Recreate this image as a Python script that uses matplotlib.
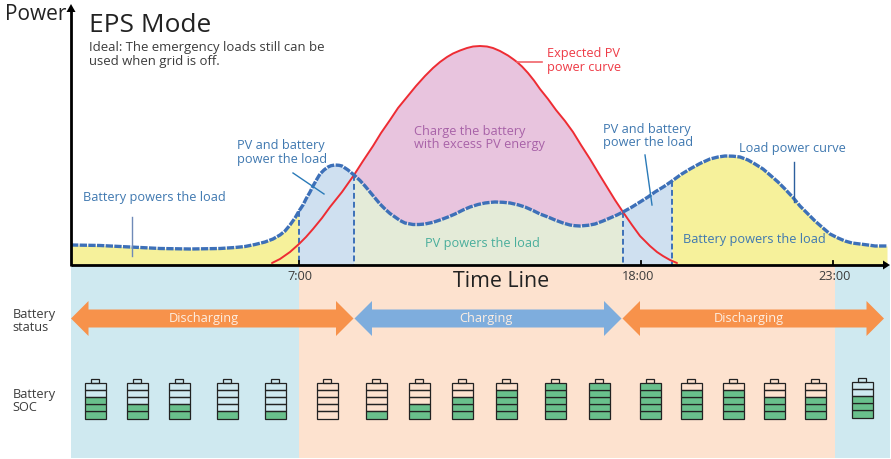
import numpy as np
import matplotlib
matplotlib.use('Agg')
import matplotlib.pyplot as plt
from matplotlib.patches import Polygon, Rectangle

plt.rcParams['font.family'] = ['Open Sans', 'DejaVu Sans']

# curves, in image pixels (y grows downwards)
load_x = [71, 100, 130, 160, 190, 220, 235, 245, 255, 265, 273, 280, 285, 290, 295, 299, 303, 306, 310, 313, 317, 320,
          324, 328, 331, 335, 339, 342, 345, 348, 351, 354,
          360, 365, 370, 375, 380, 385, 390, 395, 400, 405, 413, 419, 425, 433, 440, 448, 455, 463, 470, 478, 485, 490,
          495, 503, 510, 518, 525, 533, 540, 548, 555, 563, 570, 575, 580, 588,
          595, 603, 610, 617, 623, 632, 640, 648, 655, 664, 672, 681, 690, 700, 710, 718, 725, 733, 740, 748, 755, 763,
          770, 778, 785, 793, 800, 808, 815, 823, 830, 838, 845, 852, 860, 868, 875, 887]
load_y = [246, 246.5, 248, 249.5, 250, 249.5, 248.5, 247.5, 245.5, 243, 240, 236, 232, 226, 219, 212, 206, 200, 193, 187,
          180, 175, 171, 168, 166.7, 166, 166.3, 167, 169, 171, 173.5, 176,
          181.5, 187, 193, 199, 205, 210, 214.5, 218, 221.5, 224, 225.5, 225.5, 225, 223.3, 221, 218, 215, 211, 208, 205.5,
          204, 203.4, 203, 203.3, 204, 205.8, 208, 211.5, 215, 218, 221, 224, 226, 226.7, 227, 226.3,
          225, 222, 219, 216, 213, 208, 203, 198, 193, 187.5, 182, 175.5, 170, 164.5, 160, 158, 157, 157.2, 158, 161, 165, 170,
          176, 183, 190, 198.5, 207, 215, 222, 229, 235, 239, 242, 244, 245, 246, 247, 247]

pv_x = [272, 280, 290, 299, 306, 313, 322, 330, 342, 354, 363, 373, 381, 390, 398, 407, 416, 425, 433, 440, 447, 453,
        460, 467, 473, 480, 487, 493, 500, 508, 513, 517, 522, 528, 534, 540, 548, 556, 565, 573,
        581, 590, 599, 607, 615, 623, 632, 640, 650, 657, 663, 670, 677]
pv_y = [264, 260, 253, 245, 238, 230, 219, 208, 193, 176, 162, 147, 134, 121, 109, 98, 87, 77, 69, 63, 58, 54.5,
        51.5, 49, 47.5, 47, 47.5, 49, 52, 56.5, 60, 63, 67.5, 74, 81.5, 90, 100, 111, 122, 133,
        146, 160, 175, 188, 201, 213, 226, 237, 247, 253, 257, 261, 264]

# time axis breakpoints (pixels)
t_sunrise, t_excess_start, t_excess_end, t_sun_gone, t_late = 299, 354, 623, 672, 835
base_y = 266
right_x = 887

# battery state per icon
battery_x = [95, 137, 179, 227, 275, 327, 376, 419, 462, 506, 555, 599, 650, 691, 733, 774, 815, 862]
battery_level = [3, 2, 2, 1, 1, 0, 1, 2, 3, 4, 5, 5, 5, 4, 4, 3, 3, 3]
battery_top = [383.5] * 17 + [382.5]

status_labels = ['Discharging', 'Charging', 'Discharging']
status_text_x = [204, 486, 749]
status_from = [71, 354.5, 622.5]
status_to = [353.5, 621.5, 884]
status_colors = ['#f7924b', '#7eaddd', '#f7924b']

BLUE_TXT = '#3f78b0'
CURVE = '#3d70b8'
GREY = '#3c3c3c'
FS = 9.2

fig = plt.figure(figsize=(8.91, 4.6), dpi=100)
ax = fig.add_axes([0, 0, 1, 1])
ax.set_xlim(0, 891)
ax.set_ylim(460, 0)
ax.axis('off')

load_x = np.array(load_x, dtype=float)
load_y = np.array(load_y, dtype=float)
pv_x = np.array(pv_x, dtype=float)
pv_y = np.array(pv_y, dtype=float)


def seg(xs, ys, a, b):
    m = (xs >= a) & (xs <= b)
    return xs[m], ys[m]


# background bands
ax.axvspan(71, t_sunrise, ymin=0.002, ymax=1 - base_y / 460, color='#cfe9f0', lw=0)
ax.axvspan(t_sunrise, t_late, ymin=0.002, ymax=1 - base_y / 460, color='#fde2cf', lw=0)
ax.axvspan(t_late, 890, ymin=0.002, ymax=1 - base_y / 460, color='#cfe9f0', lw=0)

# filled regions under the load curve
for a, b, col in [(71, t_sunrise, '#f6f19b'), (t_sunrise, t_excess_start, '#cfe0f0'),
                  (t_excess_start, t_excess_end, '#e4ebd8'), (t_excess_end, t_sun_gone, '#cfe0f0'),
                  (t_sun_gone, right_x, '#f6f19b')]:
    sx, sy = seg(load_x, load_y, a, b)
    ax.fill_between(sx, sy, base_y, color=col, lw=0)

# excess PV between the two curves
px, py = seg(pv_x, pv_y, t_excess_start, t_excess_end)
lx, ly = seg(load_x, load_y, t_excess_start, t_excess_end)
ax.fill(np.r_[px, lx[::-1]], np.r_[py, ly[::-1]], color='#e8c4de', lw=0)

# dashed dividers
for xv in [t_sunrise, t_excess_start, t_excess_end, t_sun_gone]:
    top = np.interp(xv, load_x, load_y)
    ax.plot([xv, xv], [top, base_y], color=CURVE, lw=1.4, dashes=(3, 1.6))

ax.plot(pv_x, pv_y, color='#ee2c33', lw=1.4, solid_capstyle='round')
ax.plot(load_x, load_y, color=CURVE, lw=2.4, dashes=(2.2, 0.4))

# leader lines
ax.plot([132, 132], [218, 257], color='#6f8ab8', lw=1)
ax.plot([293, 324], [174, 195], color='#2a7ab8', lw=1)
ax.plot([645, 652], [156, 206], color='#2a7ab8', lw=1)
ax.plot([794, 794], [163, 203], color='#2c5f9e', lw=1)
ax.plot([517, 542], [63, 63], color='#f0636a', lw=1.2)

# axes
ax.plot([71, 71], [base_y + 1, 12], color='black', lw=2, solid_capstyle='butt')
ax.plot([71, 884], [base_y, base_y], color='black', lw=2, solid_capstyle='butt')
ax.add_patch(Polygon([(71, 5), (75.5, 13), (66.5, 13)], color='black', lw=0))
ax.add_patch(Polygon([(890, base_y), (883, base_y - 4.5), (883, base_y + 4.5)], color='black', lw=0))
for xt in [299, 641, 833]:
    ax.plot([xt, xt], [base_y - 4, base_y], color='black', lw=1.3)

# status arrows
for lab, tx, a, b, col in zip(status_labels, status_text_x, status_from, status_to, status_colors):
    yc = 319.5
    pts = [(a, yc), (a + 17.5, yc - 17.5), (a + 17.5, yc - 9), (b - 17.5, yc - 9),
           (b - 17.5, yc - 17.5), (b, yc), (b - 17.5, yc + 17.5), (b - 17.5, yc + 9),
           (a + 17.5, yc + 9), (a + 17.5, yc + 17.5)]
    ax.add_patch(Polygon(pts, facecolor=col, edgecolor='none', zorder=3))
    ax.text(tx, yc - 0.5, lab, color='#fdeee2', fontsize=FS, ha='center', va='center', zorder=4)

# battery icons
cell_w, cell_h = 21, 7.2
for xb, lev, top in zip(battery_x, battery_level, battery_top):
    ax.add_patch(Rectangle((xb - 4.2, top - 4), 8.4, 4, fc='none', ec='#222222', lw=0.9))
    for i in range(5):
        y0 = top + (4 - i) * cell_h
        fc = '#69c08c' if i < lev else 'none'
        ax.add_patch(Rectangle((xb - cell_w / 2, y0), cell_w, cell_h, fc=fc, ec='#222222', lw=0.9))

# text
ax.text(5, 15, 'Power', fontsize=15, color='#222222', va='center')
ax.text(89, 26, 'EPS Mode', fontsize=18.9, color='#222222', va='center')
ax.text(89, 47.5, 'Ideal: The emergency loads still can be', fontsize=9.45, color=GREY, va='center')
ax.text(89, 61.5, 'used when grid is off.', fontsize=9.45, color=GREY, va='center')
ax.text(83, 197.5, 'Battery powers the load', fontsize=FS, color=BLUE_TXT, va='center')
ax.text(237, 145.5, 'PV and battery', fontsize=FS, color=BLUE_TXT, va='center')
ax.text(237, 159.5, 'power the load', fontsize=FS, color=BLUE_TXT, va='center')
ax.text(603, 129.5, 'PV and battery', fontsize=FS, color=BLUE_TXT, va='center')
ax.text(603, 142.5, 'power the load', fontsize=FS, color=BLUE_TXT, va='center')
ax.text(739, 148.5, 'Load power curve', fontsize=FS, color=BLUE_TXT, va='center')
ax.text(683, 239.5, 'Battery powers the load', fontsize=FS, color=BLUE_TXT, va='center')
ax.text(414, 131.5, 'Charge the battery', fontsize=FS, color='#a862a8', va='center')
ax.text(414, 144.5, 'with excess PV energy', fontsize=FS, color='#a862a8', va='center')
ax.text(425, 243.5, 'PV powers the load', fontsize=FS, color='#4aae9c', va='center')
ax.text(547, 54, 'Expected PV', fontsize=FS, color='#ee3b46', va='center')
ax.text(547, 67.5, 'power curve', fontsize=FS, color='#ee3b46', va='center')
ax.text(453, 282, 'Time Line', fontsize=15.4, color='#222222', va='center')
for lab, xt in [('7:00', 300), ('18:00', 638.5), ('23:00', 835)]:
    ax.text(xt, 277, lab, fontsize=FS, color=GREY, ha='center', va='center')
ax.text(12.5, 314.5, 'Battery', fontsize=FS, color=GREY, va='center')
ax.text(12.5, 327.5, 'status', fontsize=FS, color=GREY, va='center')
ax.text(12.5, 394.5, 'Battery', fontsize=FS, color=GREY, va='center')
ax.text(12.5, 407.5, 'SOC', fontsize=FS, color=GREY, va='center')

fig.savefig('out.png', dpi=100)
